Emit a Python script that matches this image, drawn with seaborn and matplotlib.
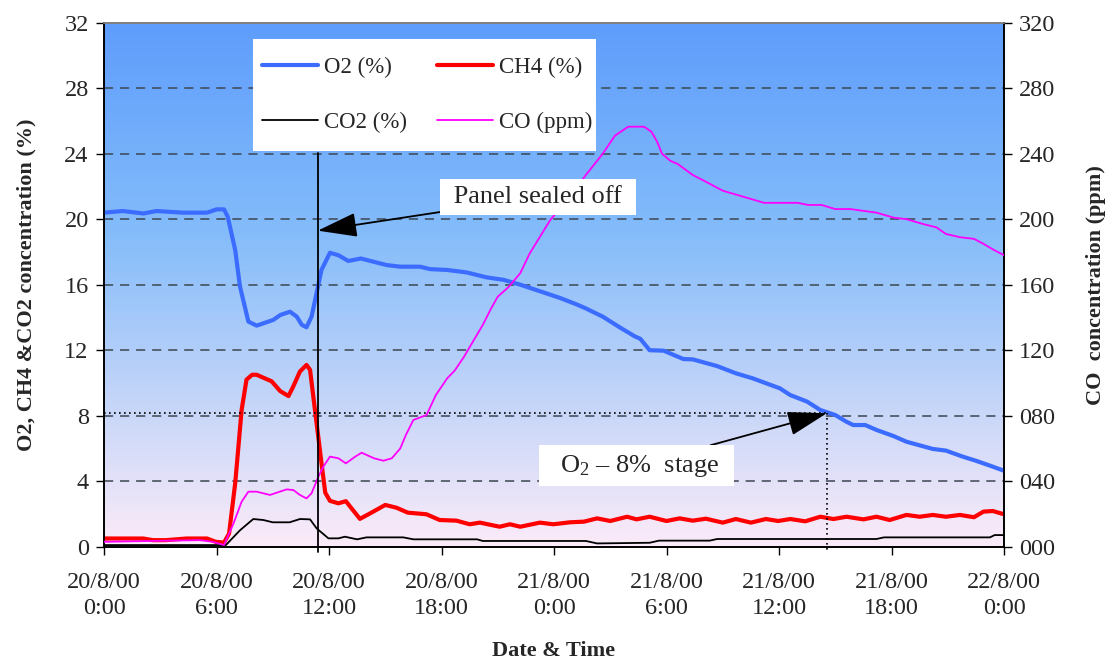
import numpy as np
import pandas as pd
import matplotlib
matplotlib.use("Agg")
import matplotlib.pyplot as plt
from matplotlib.lines import Line2D
from matplotlib.patches import Rectangle
import seaborn as sns

# ---------------- data (hours since 20/8/00 0:00) ----------------
o2_h = [0, 1.0, 2.1, 2.8, 4.2, 5.5, 6.0, 6.4, 6.6, 7.0, 7.25, 7.7, 8.14, 9.03, 9.4, 9.92,
        10.28, 10.55, 10.8, 11.07, 11.34, 11.6, 12.05, 12.5, 13.03, 13.7, 15.07, 15.8,
        16.85, 17.4, 18.3, 19.34, 20.4, 21.3, 22.2, 23.25, 24.3, 25.2, 25.7, 26.6, 27.5,
        28.3, 28.6, 29.1, 29.85, 30.9, 31.4, 32.7, 33.7, 34.6, 36.05, 36.6, 37.5, 38.2,
        39.0, 39.6, 39.96, 40.6, 41.2, 42.1, 42.8, 44.2, 44.9, 45.8, 46.5, 47.3, 48.0]
o2_v = [20.4, 20.5, 20.35, 20.5, 20.4, 20.4, 20.6, 20.6, 20.15, 18.1, 15.9, 13.75, 13.5,
        13.85, 14.15, 14.35, 14.05, 13.55, 13.4, 14.05, 15.5, 16.9, 17.95, 17.8, 17.45,
        17.6, 17.2, 17.1, 17.1, 16.95, 16.9, 16.75, 16.45, 16.3, 16.0, 15.6, 15.2, 14.8,
        14.55, 14.05, 13.4, 12.85, 12.7, 12.0, 11.97, 11.46, 11.44, 11.03, 10.59, 10.28,
        9.67, 9.26, 8.86, 8.35, 8.04, 7.63, 7.43, 7.43, 7.13, 6.76, 6.41, 5.97, 5.87,
        5.5, 5.25, 4.93, 4.64]

ch4_h = [0, 2.1, 2.6, 3.3, 4.4, 5.5, 5.95, 6.4, 6.67, 7.0, 7.34, 7.6, 7.9, 8.14, 8.94,
         9.4, 9.84, 10.1, 10.45, 10.8, 10.99, 11.25, 11.43, 11.6, 11.8, 12.05, 12.5,
         12.9, 13.3, 13.65, 14.2, 15.0, 15.6, 16.2, 17.2, 17.9, 18.8, 19.5, 20.05, 21.1,
         21.65, 22.2, 23.25, 23.96, 24.85, 25.6, 26.3, 27.0, 27.9, 28.4, 29.1, 30.0,
         30.7, 31.4, 32.1, 33.0, 33.7, 34.5, 35.3, 35.96, 36.6, 37.4, 38.2, 38.9, 39.6,
         40.5, 41.2, 41.9, 42.8, 43.5, 44.2, 44.9, 45.65, 46.4, 46.9, 47.4, 48.0]
ch4_v = [0.5, 0.5, 0.4, 0.4, 0.5, 0.5, 0.3, 0.25, 0.8, 3.9, 8.35, 10.2, 10.5, 10.5, 10.1,
         9.5, 9.2, 9.8, 10.7, 11.1, 10.8, 8.35, 6.7, 5.1, 3.3, 2.8, 2.65, 2.78, 2.2, 1.7,
         2.04, 2.55, 2.38, 2.08, 1.98, 1.63, 1.59, 1.37, 1.47, 1.22, 1.37, 1.22, 1.47,
         1.37, 1.49, 1.53, 1.73, 1.57, 1.83, 1.67, 1.83, 1.57, 1.73, 1.59, 1.71, 1.47,
         1.69, 1.47, 1.69, 1.57, 1.69, 1.55, 1.83, 1.69, 1.83, 1.67, 1.83, 1.63, 1.94,
         1.83, 1.94, 1.83, 1.94, 1.8, 2.14, 2.18, 1.98]

co2_h = [0, 6.5, 7.25, 7.96, 8.5, 9.0, 9.9, 10.45, 10.99, 11.34, 11.97, 12.5, 12.85,
         13.5, 14.0, 15.96, 16.5, 19.9, 20.2, 25.7, 26.3, 29.1, 29.6, 32.3, 32.7, 41.2,
         41.6, 47.25, 47.5, 48.0]
co2_v = [0.1, 0.1, 1.0, 1.69, 1.63, 1.49, 1.49, 1.69, 1.67, 1.12, 0.51, 0.51, 0.61,
         0.45, 0.57, 0.57, 0.45, 0.45, 0.35, 0.35, 0.2, 0.24, 0.37, 0.37, 0.47, 0.47,
         0.57, 0.57, 0.71, 0.71]

co_h = [0, 5.1, 5.8, 6.4, 6.9, 7.34, 7.7, 8.14, 8.85, 9.74, 10.1, 10.45, 10.8, 11.07,
        11.43, 11.7, 12.05, 12.5, 12.9, 13.4, 13.74, 14.4, 14.9, 15.35, 15.8, 16.1, 16.5,
        17.2, 17.7, 18.3, 18.7, 19.2, 20.2, 20.65, 21.0, 21.56, 22.2, 22.7, 23.8, 24.85,
        25.7, 26.6, 27.25, 27.96, 28.8, 29.2, 29.5, 29.76, 30.2, 30.6, 31.4, 32.1, 33.0,
        33.9, 35.2, 37.0, 37.55, 38.27, 38.99, 39.8, 41.2, 42.1, 42.8, 43.7, 44.4, 44.9,
        45.65, 46.4, 46.9, 47.4, 48.0]
co_v = [3, 4, 3, 1, 14, 27.5, 33.6, 33.6, 31.6, 35, 34.6, 31.6, 29.5, 32.6, 42.7, 48.9,
        55, 54, 50.9, 55, 57.4, 54, 52.5, 54, 60, 68.2, 77.4, 80.4, 92.6, 102.8, 107.5,
        116, 135.4, 145.6, 152.7, 158.4, 167, 179, 199.5, 213.7, 227, 240, 251, 256.5,
        256.5, 253.4, 247.3, 240, 235.7, 233.7, 227, 222.9, 217.4, 214.4, 210, 210,
        208.7, 208.7, 206.2, 206.2, 204, 201, 200, 197, 195, 191, 189, 188, 185, 181.6,
        178]

xtick_hours = [0, 6, 12, 18, 24, 30, 36, 42, 48]
xtick_labels = ["20/8/00\n0:00", "20/8/00\n6:00", "20/8/00\n12:00", "20/8/00\n18:00",
                "21/8/00\n0:00", "21/8/00\n6:00", "21/8/00\n12:00", "21/8/00\n18:00",
                "22/8/00\n0:00"]
left_ticks = [0, 4, 8, 12, 16, 20, 24, 28, 32]
right_ticks = [0, 40, 80, 120, 160, 200, 240, 280, 320]

seal_hour = 11.4
seal_top = 24.05
stage_hour = 38.55
stage_level = 8.15

# ---------------- styling ----------------
sns.set_theme(style="white")
plt.rcParams["font.family"] = ["Liberation Serif", "DejaVu Serif"]
plt.rcParams["mathtext.fontset"] = "custom"
plt.rcParams["mathtext.rm"] = "Liberation Serif"
plt.rcParams["mathtext.it"] = "Liberation Serif:italic"

fig = plt.figure(figsize=(11.10, 6.59), dpi=100)
ax = fig.add_axes([104 / 1110, 1 - 546.7 / 659, 900 / 1110, 524 / 659])
ax2 = ax.twinx()

# gradient background
grad = np.linspace(0, 1, 256)
top = np.array([94, 157, 252]) / 255
mid = np.array([132, 188, 250]) / 255
bot = np.array([252, 235, 248]) / 255
cols = np.zeros((256, 1, 3))
for i, t in enumerate(grad):
    if t < 0.4:
        c = top + (mid - top) * (t / 0.4)
    else:
        c = mid + (bot - mid) * ((t - 0.4) / 0.6)
    cols[i, 0] = c
ax.imshow(cols, extent=[0, 48, 0, 32], aspect="auto", zorder=0, origin="upper")

# grid
for yv in left_ticks[1:-1]:
    ax.axhline(yv, color="#3c4650", lw=1.1, ls=(0, (6, 4.5)), zorder=1)

df_o2 = pd.DataFrame({"h": o2_h, "v": o2_v})
df_ch4 = pd.DataFrame({"h": ch4_h, "v": ch4_v})
df_co2 = pd.DataFrame({"h": co2_h, "v": co2_v})
df_co = pd.DataFrame({"h": co_h, "v": co_v})

sns.lineplot(data=df_co2, x="h", y="v", ax=ax, color="black", lw=1.3, zorder=3)
sns.lineplot(data=df_ch4, x="h", y="v", ax=ax, color="#ff0000", lw=3.0, zorder=4)
sns.lineplot(data=df_o2, x="h", y="v", ax=ax, color="#3b6cff", lw=3.0, zorder=4)
sns.lineplot(data=df_co, x="h", y="v", ax=ax2, color="#ff00ff", lw=1.3, zorder=3)

ax.set_xlim(0, 48)
ax.set_ylim(0, 32)
ax2.set_ylim(0, 320)

ax.set_xticks(xtick_hours)
ax.set_xticklabels(xtick_labels, fontsize=17.5, linespacing=1.3)
ax.set_yticks(left_ticks)
ax.set_yticklabels([str(t) for t in left_ticks], fontsize=17.5)
ax2.set_yticks(right_ticks)
ax2.set_yticklabels([f"{t:03d}" for t in right_ticks], fontsize=17.5)

ax.tick_params(axis="both", direction="out", length=6, width=1, color="black",
               bottom=True, left=True, pad=5)
ax.tick_params(axis="x", pad=12)
ax2.tick_params(axis="y", direction="out", length=6, width=1, color="black", right=True, pad=5)

for a in (ax, ax2):
    for s in ("left", "right", "bottom"):
        a.spines[s].set_color("black")
        a.spines[s].set_linewidth(1.2)
    a.spines["top"].set_color("#808080")
    a.spines["top"].set_linewidth(1.2)

ax.set_xlabel("Date & Time", fontsize=16, fontweight="bold", labelpad=16)
ax.set_ylabel("O2, CH4 &CO2 concentration (%)", fontsize=16, fontweight="bold", labelpad=20)
ax2.set_ylabel("CO  concentration (ppm)", fontsize=16, fontweight="bold", labelpad=22)

# seal line
ax2.plot([seal_hour, seal_hour], [seal_top, -0.3], transform=ax.transData,
         color="black", lw=1.3, clip_on=False, zorder=5)
# 8% stage dotted lines
ax2.plot([0, stage_hour], [stage_level, stage_level], transform=ax.transData,
         color="black", lw=1.2, ls=(0, (1, 2)), zorder=5)
ax2.plot([stage_hour, stage_hour], [stage_level, -0.3], transform=ax.transData,
         color="black", lw=1.2, ls=(0, (1, 2)), clip_on=False, zorder=5)

ann_kw = dict(arrowprops=dict(arrowstyle="-|>,head_length=1.3,head_width=0.4",
                              color="black", lw=1.3, shrinkA=0, shrinkB=0),
              fontsize=19, ha="center", va="center", zorder=8,
              bbox=dict(boxstyle="square,pad=0.28", fc="white", ec="none"))
ax2.annotate(" Panel sealed off ", xy=(seal_hour, 19.3), xycoords=ax.transData,
             xytext=(23.15, 21.35), textcoords=ax.transData, **ann_kw)
ax2.annotate("  O$_2$ – 8%  stage  ", xy=(stage_hour, stage_level), xycoords=ax.transData,
             xytext=(28.4, 4.95), textcoords=ax.transData, **ann_kw)

# legend box
ax2.add_patch(Rectangle((253 / 1110, 1 - 151 / 659), 343 / 1110, 112 / 659,
                        transform=fig.transFigure, facecolor="white", edgecolor="none",
                        zorder=9, clip_on=False))
handles = [Line2D([], [], color="#3b6cff", lw=3.0),
           Line2D([], [], color="black", lw=1.3),
           Line2D([], [], color="#ff0000", lw=3.0),
           Line2D([], [], color="#ff00ff", lw=1.3)]
labels = ["O2 (%)", "CO2 (%)", "CH4 (%)", "CO (ppm)"]
leg = ax2.legend(handles, labels, ncol=2, loc="upper left",
                 bbox_to_anchor=(262 / 1110, 1 - 57 / 659), bbox_transform=fig.transFigure,
                 fontsize=16.5, frameon=False, handlelength=2.45, handletextpad=0.25,
                 labelspacing=1.45, columnspacing=1.3, borderpad=0, borderaxespad=0)
leg.set_zorder(10)

fig.savefig("out.png", dpi=100)
